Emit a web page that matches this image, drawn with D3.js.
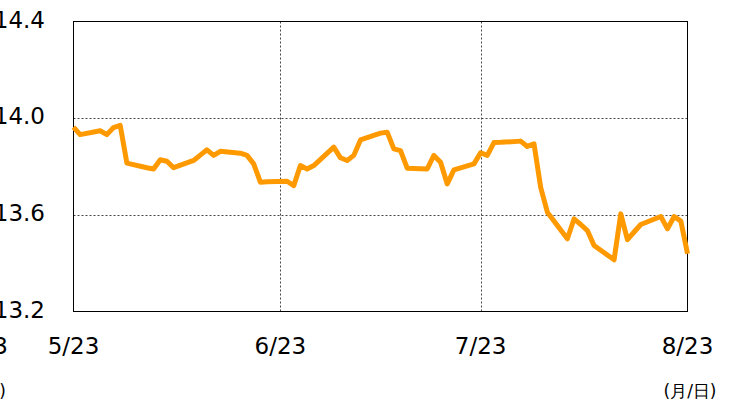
<!DOCTYPE html>
<html>
<head>
<meta charset="utf-8">
<script src="https://cdn.jsdelivr.net/npm/d3@7"></script>
<style>
  html, body { margin: 0; padding: 0; background: #fff; }
  svg { display: block; }
  text { font-family: "DejaVu Sans", Verdana, sans-serif; fill: #000; }
</style>
</head>
<body>
<svg id="chart" width="752" height="403"></svg>
<script>
// Data
// ----
const dates = [
  "2024-05-23","2024-05-24","2024-05-27","2024-05-28","2024-05-29","2024-05-30","2024-05-31",
  "2024-06-03","2024-06-04","2024-06-05","2024-06-06","2024-06-07",
  "2024-06-10","2024-06-11","2024-06-12","2024-06-13","2024-06-14",
  "2024-06-17","2024-06-18","2024-06-19","2024-06-20","2024-06-21",
  "2024-06-24","2024-06-25","2024-06-26","2024-06-27","2024-06-28",
  "2024-07-01","2024-07-02","2024-07-03","2024-07-04","2024-07-05",
  "2024-07-08","2024-07-09","2024-07-10","2024-07-11","2024-07-12",
  "2024-07-15","2024-07-16","2024-07-17","2024-07-18","2024-07-19",
  "2024-07-22","2024-07-23","2024-07-24","2024-07-25","2024-07-26",
  "2024-07-29","2024-07-30","2024-07-31","2024-08-01","2024-08-02",
  "2024-08-05","2024-08-06","2024-08-07","2024-08-08","2024-08-09",
  "2024-08-12","2024-08-13","2024-08-14","2024-08-15","2024-08-16",
  "2024-08-19","2024-08-20","2024-08-21","2024-08-22","2024-08-23"
];
const values = [
  13.963, 13.932, 13.948, 13.932, 13.961, 13.970, 13.814,
  13.795, 13.790, 13.828, 13.822, 13.795,
  13.825, 13.847, 13.869, 13.846, 13.863,
  13.855, 13.846, 13.811, 13.735, 13.737,
  13.739, 13.721, 13.804, 13.790, 13.804,
  13.880, 13.836, 13.825, 13.846, 13.910,
  13.938, 13.942, 13.873, 13.866, 13.793,
  13.790, 13.846, 13.818, 13.728, 13.786,
  13.811, 13.857, 13.846, 13.899, 13.900,
  13.905, 13.883, 13.894, 13.714, 13.611,
  13.501, 13.583, 13.560, 13.535, 13.473,
  13.414, 13.604, 13.497, 13.529, 13.560,
  13.593, 13.542, 13.593, 13.574, 13.439
];
const yTicks = [13.2, 13.6, 14.0, 14.4];
const yGrid = [13.6, 14.0];
const xTicks = ["2024-05-23", "2024-06-23", "2024-07-23", "2024-08-23"];
const xGrid = ["2024-06-23", "2024-07-23"];
const xUnitLabel = "(月/日)";
const leftCutLabels = ["2023", "(年)"];

// Setup
// -----
const parse = d3.timeParse("%Y-%m-%d");
const data = dates.map((d, i) => ({ date: parse(d), value: values[i] }));

const svg = d3.select("#chart");
const plot = { left: 73.5, right: 687.5, top: 21.5, bottom: 311.5 };

const x = d3.scaleTime()
  .domain([parse(xTicks[0]), parse(xTicks[xTicks.length - 1])])
  .range([plot.left, plot.right]);
const y = d3.scaleLinear().domain([13.2, 14.4]).range([plot.bottom, plot.top]);

// Grid lines
svg.append("g").selectAll("line").data(yGrid).join("line")
  .attr("x1", plot.left).attr("x2", plot.right)
  .attr("y1", d => Math.round(y(d)) + 0.5).attr("y2", d => Math.round(y(d)) + 0.5)
  .attr("stroke", "#444").attr("stroke-dasharray", "2,2");
svg.append("g").selectAll("line").data(xGrid).join("line")
  .attr("x1", d => Math.round(x(parse(d))) + 0.5).attr("x2", d => Math.round(x(parse(d))) + 0.5)
  .attr("y1", plot.top).attr("y2", plot.bottom)
  .attr("stroke", "#444").attr("stroke-dasharray", "2,2");

// Frame
svg.append("rect")
  .attr("x", plot.left).attr("y", plot.top)
  .attr("width", plot.right - plot.left).attr("height", plot.bottom - plot.top)
  .attr("fill", "none").attr("stroke", "#000");

// Line
const line = d3.line().x(d => x(d.date)).y(d => y(d.value));
svg.append("path").datum(data)
  .attr("d", line)
  .attr("fill", "none")
  .attr("stroke", "#ff9900")
  .attr("stroke-width", 5)
  .attr("stroke-linejoin", "round");

// Y tick labels
svg.append("g").selectAll("text").data(yTicks).join("text")
  .attr("x", 45).attr("y", d => y(d) + 6)
  .attr("text-anchor", "end")
  .style("font-size", "23px")
  .text(d => d.toFixed(1));

// X tick labels
const fmt = d3.timeFormat("%-m/%-d");
svg.append("g").selectAll("text").data(xTicks).join("text")
  .attr("x", d => x(parse(d))).attr("y", 354)
  .attr("text-anchor", "middle")
  .style("font-size", "23px")
  .text(d => fmt(parse(d)));

// Unit label and labels cut by the left edge
svg.append("text").attr("x", 690).attr("y", 397)
  .attr("text-anchor", "middle").style("font-size", "17px")
  .text(xUnitLabel);
svg.append("text").attr("x", 8).attr("y", 354)
  .attr("text-anchor", "end").style("font-size", "23px")
  .text(leftCutLabels[0]);
svg.append("text").attr("x", 6).attr("y", 397)
  .attr("text-anchor", "end").style("font-size", "17px")
  .text(leftCutLabels[1]);
</script>
</body>
</html>
